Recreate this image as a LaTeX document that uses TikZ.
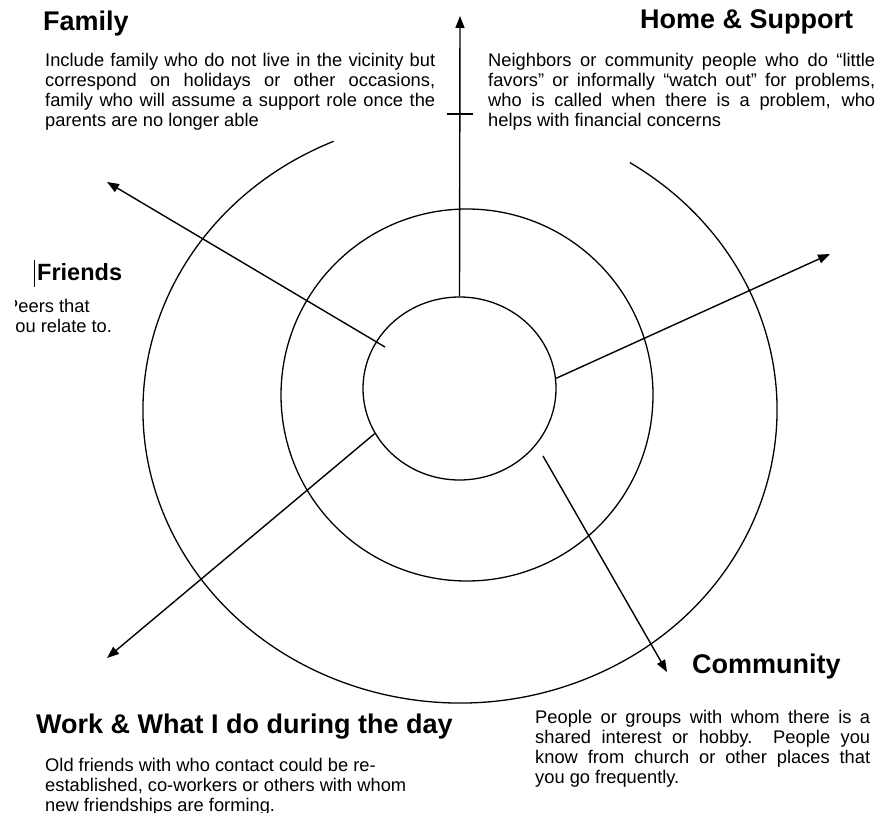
\documentclass[tikz,border=0pt]{standalone}
\usepackage{fontspec}
\setmainfont{Liberation Sans}
\usetikzlibrary{arrows.meta,shapes.geometric}
\begin{document}
\begin{tikzpicture}[x=1pt,y=1pt,
  ring/.style={line width=1.3pt},
  spoke/.style={line width=1.4pt,-{Triangle[length=12pt,width=9pt]}},
  heading/.style={anchor=base west,inner sep=0pt,font=\bfseries\fontsize{27}{31}\selectfont},
  body/.style={anchor=base west,inner sep=0pt},
  bodyfont/.style={font=\fontsize{18.3}{20}\selectfont}]
\useasboundingbox (0,0) rectangle (888,-813);

% rings
\node[draw,ring,ellipse,minimum width=193pt,minimum height=183pt,inner sep=0pt] (core) at (459.5,-388.5) {};
\draw[ring] (467,-395) circle[radius=186];
\draw[ring] (333.6,-141.3) arc[start angle=113.5,end angle=417.6,x radius=317,y radius=293];

% spoke end points
\coordinate (tipFamily) at (107,-182);
\coordinate (tipHome) at (460,-16);
\coordinate (tipFriends) at (830,-254);
\coordinate (tipWork) at (107,-658);
\coordinate (tipCommunity) at (667,-672);
\coordinate (startFamily) at (385,-347);
\coordinate (startCommunity) at (543,-456);
\coordinate (tickL) at (447,-114);
\coordinate (tickR) at (473,-114);

% spokes
\draw[spoke] (core.north) -- (tipHome);
\draw[line width=1.2pt] (tickL) -- (tickR);
\draw[spoke] (startFamily) -- (tipFamily);
\draw[spoke] (core.6) -- (tipFriends);
\draw[spoke] (core.208) -- (tipWork);
\draw[spoke] (startCommunity) -- (tipCommunity);

% headings
\node[heading] (hFamily) at (43,-31) {Family};
\node[heading] (hHome) at (640,-29) {Home \& Support};
\node[heading,font=\bfseries\fontsize{23.5}{28}\selectfont] (hFriends) at (37,-280) {Friends};
\node[heading] (hWork) at (36,-733) {Work \& What I do during the day};
\node[heading] (hCommunity) at (692,-673) {Community};

% text cursor before the Friends heading
\draw[line width=1.2pt] (34.5,-260) -- (34.5,-287);

% descriptions
\node[body] (tFamily) at (45,-67) {\parbox[t]{390pt}{\fontsize{18.3}{20}\selectfont
\makebox[\linewidth][s]{Include family who do not live in the vicinity but}\\
\makebox[\linewidth][s]{correspond on holidays or other occasions,}\\
\makebox[\linewidth][s]{family who will assume a support role once the}\\
parents are no longer able}};

\node[body] (tHome) at (488,-67) {\parbox[t]{387pt}{\fontsize{18.3}{20}\selectfont
\makebox[\linewidth][s]{Neighbors or community people who do ``little}\\
\makebox[\linewidth][s]{favors'' or informally ``watch out'' for problems,}\\
\makebox[\linewidth][s]{who is called when there is a problem, who}\\
helps with financial concerns}};

\begin{scope}
\clip (15,-290) rectangle (200,-345);
\node[body] (tFriends) at (6,-312) {\parbox[t]{150pt}{\fontsize{18.3}{20}\selectfont
Peers that\\
you relate to.}};
\end{scope}

\node[body] (tWork) at (45,-771) {\parbox[t]{400pt}{\fontsize{18.3}{20}\selectfont
Old friends with who contact could be re-\\
established, co-workers or others with whom\\
new friendships are forming.}};

\node[body] (tCommunity) at (535,-723) {\parbox[t]{335pt}{\fontsize{18.3}{20}\selectfont
\makebox[\linewidth][s]{People or groups with whom there is a}\\
\makebox[\linewidth][s]{shared interest or hobby.\ \ People you}\\
\makebox[\linewidth][s]{know from church or other places that}\\
you go frequently.}};
\end{tikzpicture}
\end{document}
